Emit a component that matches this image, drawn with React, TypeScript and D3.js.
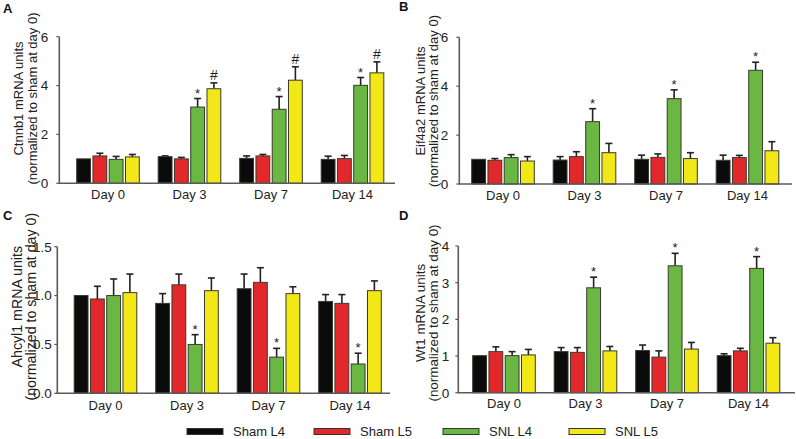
import React from "react";
import * as d3 from "d3";

const days = ["Day 0", "Day 3", "Day 7", "Day 14"];
const series = ["Sham L4", "Sham L5", "SNL L4", "SNL L5"];
const seriesColors = ["#0b0b0b", "#e3282b", "#6ab743", "#f3e817"];

// values indexed [day][series]
const ctnnb1Mean = [[1.0, 1.12, 0.98, 1.08], [1.09, 1.0, 3.12, 3.87], [1.02, 1.12, 3.03, 4.22], [0.98, 1.01, 4.01, 4.52]];
const ctnnb1Err = [[0, 0.11, 0.12, 0.1], [0.03, 0.06, 0.35, 0.24], [0.1, 0.06, 0.52, 0.55], [0.13, 0.13, 0.32, 0.45]];
const ctnnb1Marks = [["", "", "", ""], ["", "", "*", "#"], ["", "", "*", "#"], ["", "", "*", "#"]];

const eif4a2Mean = [[1.01, 0.97, 1.08, 0.94], [0.98, 1.12, 2.55, 1.28], [1.01, 1.09, 3.49, 1.04], [0.97, 1.08, 4.65, 1.36]];
const eif4a2Err = [[0, 0.07, 0.12, 0.18], [0.14, 0.2, 0.53, 0.38], [0.17, 0.14, 0.36, 0.24], [0.21, 0.09, 0.33, 0.37]];
const eif4a2Marks = [["", "", "", ""], ["", "", "*", ""], ["", "", "*", ""], ["", "", "*", ""]];

const ahcyl1Mean = [[1.0, 0.965, 1.0, 1.03], [0.92, 1.11, 0.5, 1.05], [1.07, 1.135, 0.37, 1.02], [0.94, 0.92, 0.3, 1.05]];
const ahcyl1Err = [[0, 0.13, 0.17, 0.19], [0.1, 0.11, 0.1, 0.13], [0.15, 0.15, 0.09, 0.07], [0.07, 0.09, 0.11, 0.1]];
const ahcyl1Marks = [["", "", "", ""], ["", "", "*", ""], ["", "", "*", ""], ["", "", "*", ""]];

const wt1Mean = [[1.01, 1.12, 1.01, 1.03], [1.12, 1.1, 2.86, 1.14], [1.15, 0.97, 3.46, 1.19], [1.01, 1.14, 3.39, 1.35]];
const wt1Err = [[0, 0.13, 0.11, 0.15], [0.11, 0.13, 0.29, 0.12], [0.15, 0.17, 0.34, 0.18], [0.05, 0.07, 0.32, 0.15]];
const wt1Marks = [["", "", "", ""], ["", "", "*", ""], ["", "", "*", ""], ["", "", "*", ""]];

const ticksAB = [0, 2, 4, 6];
const ticksC = [0, 0.5, 1.0, 1.5];
const ticksD = [0, 1, 2, 3, 4];

const FONT = "Liberation Sans, Arial, sans-serif";
const AXIS = "#5a5a5a";

type PanelProps = {
  letter: string;
  letterX: number;
  letterY: number;
  gene: string;
  mean: number[][];
  err: number[][];
  marks: string[][];
  ticks: number[];
  fmt: string;
  axisX: number;
  axisRight: number;
  yTop: number;
  yBottom: number;
  bandStart: number;
  labelX1: number;
  labelX2: number;
  labelY: number;
  labelSize: number;
  dayBaseline: number;
  tickOffset: number;
};

function Panel(p: PanelProps) {
  const y = d3.scaleLinear().domain([p.ticks[0], p.ticks[p.ticks.length - 1]]).range([p.yBottom, p.yTop]);
  const step = 81.5;
  const x = d3.scaleBand<string>().domain(days).range([p.bandStart, p.bandStart + step * 4]).padding(0);
  const bw = x.bandwidth();
  const inner = d3.scaleBand<string>().domain(series).range([bw / 2 - 31.3, bw / 2 + 31.3]).paddingInner(0.15);
  const f = d3.format(p.fmt);
  return (
    <g>
      <text x={p.letterX} y={p.letterY} fontFamily={FONT} fontWeight="bold" fontSize={13} fill="#111">{p.letter}</text>
      <g transform={`translate(${p.labelX1},${p.labelY}) rotate(-90)`}>
        <text textAnchor="middle" dominantBaseline="central" fontFamily={FONT} fontSize={p.labelSize} fill="#222">{`${p.gene} mRNA units`}</text>
      </g>
      <g transform={`translate(${p.labelX2},${p.labelY}) rotate(-90)`}>
        <text textAnchor="middle" dominantBaseline="central" fontFamily={FONT} fontSize={p.labelSize} fill="#222">(normalized to sham at day 0)</text>
      </g>
      {days.map((d, di) => (
        <g key={d}>
          {series.map((s, si) => {
            const bx = (x(d) as number) + (inner(s) as number);
            const w = inner.bandwidth();
            const v = p.mean[di][si];
            const e = p.err[di][si];
            const top = y(v);
            const et = y(v + e);
            const cx = bx + w / 2;
            const m = p.marks[di][si];
            return (
              <g key={s}>
                {e > 0 && (
                  <g stroke="#222" strokeWidth={1.6}>
                    <line x1={cx} x2={cx} y1={top} y2={et} />
                    <line x1={cx - 3.5} x2={cx + 3.5} y1={et} y2={et} />
                  </g>
                )}
                <rect x={bx} y={top} width={w} height={p.yBottom - top} fill={seriesColors[si]} stroke="#3a3a2a" strokeWidth={1} />
                {m === "*" && (
                  <text x={cx} y={et - 1} textAnchor="middle" fontFamily={FONT} fontSize={13} fill="#222">*</text>
                )}
                {m === "#" && (
                  <text x={cx} y={et - 3} textAnchor="middle" fontFamily={FONT} fontSize={14} fill="#222">#</text>
                )}
              </g>
            );
          })}
          <text x={(x(d) as number) + bw / 2} y={p.dayBaseline} textAnchor="middle" fontFamily={FONT} fontSize={13} fill="#222">{d}</text>
        </g>
      ))}
      <line x1={p.axisX} x2={p.axisX} y1={p.yTop} y2={p.yBottom} stroke={AXIS} strokeWidth={1.6} />
      <line x1={p.axisX - 0.8} x2={p.axisRight} y1={p.yBottom} y2={p.yBottom} stroke={AXIS} strokeWidth={1.6} />
      {p.ticks.map((t) => (
        <g key={t}>
          <line x1={p.axisX - 3} x2={p.axisX} y1={y(t)} y2={y(t)} stroke={AXIS} strokeWidth={1.2} />
          <text x={p.axisX - p.tickOffset} y={y(t)} dy="0.36em" textAnchor="end" fontFamily={FONT} fontSize={13.5} fill="#222">{f(t)}</text>
        </g>
      ))}
    </g>
  );
}

export default function App() {
  const legendX = [187, 314, 443, 569];
  return (
    <svg width={796} height={439} style={{ position: "absolute", left: 0, top: 0, background: "#fff" }}>
      <rect width={796} height={439} fill="#fff" />
      <Panel letter="A" letterX={3} letterY={13} gene="Ctnnb1" mean={ctnnb1Mean} err={ctnnb1Err} marks={ctnnb1Marks}
        ticks={ticksAB} fmt="d" axisX={59.3} axisRight={395} yTop={36.7} yBottom={183.3} bandStart={67.25}
        labelX1={18.5} labelX2={32} labelY={98.5} labelSize={13} dayBaseline={199} tickOffset={11} />
      <Panel letter="B" letterX={399} letterY={11} gene="Eif4a2" mean={eif4a2Mean} err={eif4a2Err} marks={eif4a2Marks}
        ticks={ticksAB} fmt="d" axisX={459.3} axisRight={792} yTop={37.3} yBottom={184} bandStart={462.25}
        labelX1={420.5} labelX2={433.5} labelY={101} labelSize={13} dayBaseline={199.5} tickOffset={11} />
      <Panel letter="C" letterX={3} letterY={220} gene="Ahcyl1" mean={ahcyl1Mean} err={ahcyl1Err} marks={ahcyl1Marks}
        ticks={ticksC} fmt=".1f" axisX={57.3} axisRight={390} yTop={246.7} yBottom={393.3} bandStart={64.75}
        labelX1={17} labelX2={31} labelY={306.7} labelSize={14.2} dayBaseline={409.5} tickOffset={5.5} />
      <Panel letter="D" letterX={399} letterY={220} gene="Wt1" mean={wt1Mean} err={wt1Err} marks={wt1Marks}
        ticks={ticksD} fmt="d" axisX={458.3} axisRight={795} yTop={246} yBottom={392.7} bandStart={463.25}
        labelX1={420} labelX2={433.5} labelY={313} labelSize={13.4} dayBaseline={408} tickOffset={9} />
      {series.map((s, i) => (
        <g key={s}>
          <rect x={legendX[i]} y={428.5} width={36} height={6} fill={seriesColors[i]} stroke="#333" strokeWidth={1} />
          <text x={legendX[i] + 46} y={436} fontFamily={FONT} fontSize={13} fill="#222">{s}</text>
        </g>
      ))}
    </svg>
  );
}
